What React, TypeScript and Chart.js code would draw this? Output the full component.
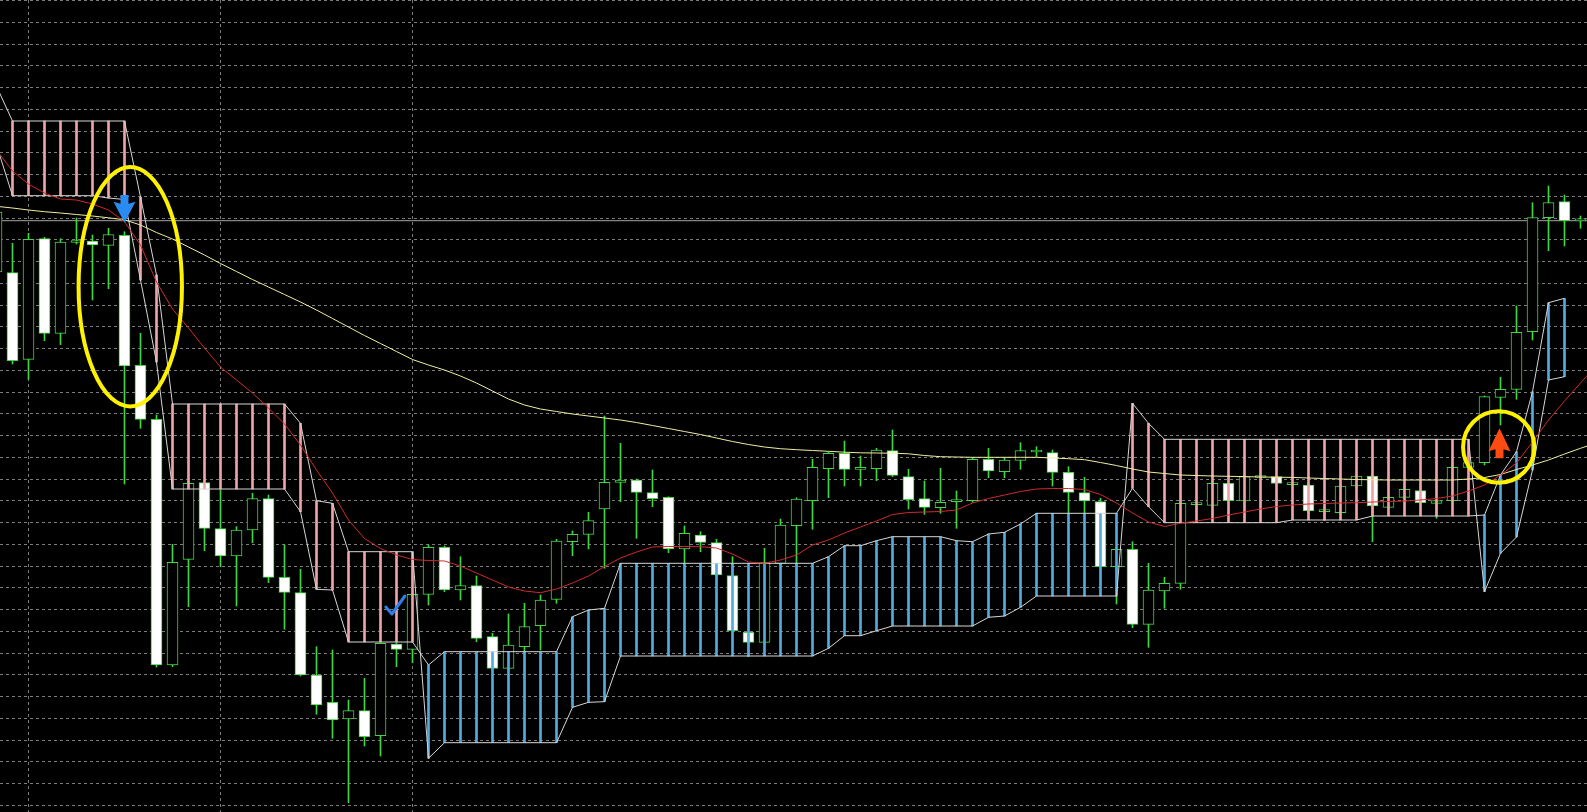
import React, { useEffect, useRef } from 'react';
import { Chart, registerables } from 'chart.js';

Chart.register(...registerables);

// ---------- data (bar index starts at FIRST_BAR) ----------
const FIRST_BAR = -1;

const OPEN = [
  154.00, 153.93, 145.27, 157.33, 147.87, 156.95, 157.10, 156.67, 157.67, 144.67,
  139.27, 114.70, 125.27, 132.93, 128.33, 125.60, 128.20, 131.33, 123.47, 121.93,
  113.70, 110.97, 109.30, 110.13, 107.63, 116.80, 116.27, 121.77, 126.47, 122.20,
  122.63, 117.53, 114.37, 116.53, 118.63, 121.27, 127.03, 127.77, 130.30, 132.97,
  133.20, 131.93, 131.47, 126.30, 127.70, 126.93, 123.63, 117.97, 116.97, 124.87,
  128.63, 131.13, 134.33, 135.87, 134.27, 134.33, 136.13, 133.53, 131.33, 130.43,
  131.03, 131.13, 135.27, 134.03, 135.17, 136.00, 135.93, 133.97, 131.93, 131.03,
  124.53, 126.27, 118.77, 122.10, 122.87, 130.73, 130.67, 132.87, 131.10, 133.45,
  133.53, 132.73, 132.70, 130.03, 129.93, 132.60, 133.60, 130.47, 131.47, 132.13,
  130.87, 131.13, 134.47, 134.93, 141.47, 142.27, 148.03, 159.43, 161.03, 159.11,
];
const HIGH = [
  160.70, 156.87, 157.87, 157.47, 157.33, 159.40, 157.70, 158.37, 158.03, 147.87,
  139.70, 126.77, 133.03, 133.10, 132.20, 128.53, 131.87, 131.70, 126.70, 124.27,
  116.53, 116.20, 111.20, 113.37, 116.90, 116.90, 121.80, 126.70, 126.60, 125.53,
  123.60, 117.87, 119.80, 120.87, 121.70, 127.27, 128.10, 129.97, 139.60, 136.87,
  133.30, 134.20, 131.53, 128.60, 128.03, 127.27, 125.53, 118.00, 126.37, 129.30,
  131.43, 135.27, 136.00, 137.10, 135.60, 136.37, 138.20, 134.27, 133.10, 134.37,
  132.10, 135.47, 136.37, 135.47, 136.93, 136.53, 136.20, 134.53, 133.47, 131.37,
  126.30, 127.03, 124.87, 123.47, 130.90, 130.80, 132.90, 132.90, 133.60, 133.55,
  133.60, 132.80, 132.80, 130.20, 132.70, 133.70, 133.70, 131.50, 132.30, 132.20,
  131.20, 134.50, 135.00, 141.60, 143.47, 150.60, 160.93, 162.60, 161.70, 159.60,
];
const LOW = [
  153.70, 144.80, 143.27, 147.13, 146.73, 156.80, 151.20, 152.33, 132.80, 138.37,
  114.50, 114.53, 120.53, 126.13, 124.53, 120.60, 126.93, 122.93, 118.27, 113.60,
  109.77, 107.37, 100.93, 106.60, 105.60, 114.53, 114.93, 120.70, 122.03, 121.20,
  117.03, 114.20, 114.20, 116.00, 116.20, 120.87, 125.63, 126.30, 124.37, 131.03,
  127.37, 130.53, 125.93, 124.87, 126.03, 123.60, 118.10, 115.53, 116.90, 124.70,
  124.70, 128.27, 131.43, 132.60, 132.60, 133.13, 133.53, 130.30, 129.77, 129.87,
  128.37, 130.97, 133.43, 133.43, 134.27, 135.53, 132.60, 129.93, 129.90, 124.50,
  120.80, 118.43, 116.47, 120.37, 122.27, 130.73, 130.65, 131.10, 131.10, 133.40,
  132.85, 132.70, 129.90, 129.13, 129.90, 132.50, 127.03, 130.40, 131.40, 130.90,
  129.37, 131.10, 134.40, 134.70, 138.70, 141.27, 147.20, 156.13, 156.60, 158.37,
];
const CLOSE = [
  160.00, 145.13, 157.27, 147.87, 157.00, 157.00, 156.70, 157.73, 144.60, 139.27,
  114.70, 124.97, 132.87, 128.37, 125.60, 128.20, 131.33, 123.47, 121.97, 113.70,
  110.70, 109.20, 110.13, 107.53, 116.87, 116.27, 121.77, 126.47, 122.20, 122.63,
  117.37, 114.37, 116.70, 118.53, 121.20, 127.10, 127.77, 129.13, 132.97, 133.20,
  131.97, 131.33, 126.30, 127.87, 126.97, 123.70, 118.13, 116.97, 124.93, 128.70,
  131.30, 134.47, 135.87, 134.27, 134.33, 136.20, 133.67, 131.23, 130.47, 130.97,
  131.10, 135.27, 134.10, 135.20, 136.13, 136.03, 133.97, 131.97, 131.10, 124.53,
  126.27, 118.77, 122.20, 122.87, 130.87, 130.80, 132.87, 131.13, 133.53, 133.50,
  132.87, 132.77, 130.10, 130.07, 132.60, 133.60, 130.60, 131.47, 132.27, 130.93,
  131.13, 134.47, 134.93, 141.53, 142.27, 147.97, 159.43, 160.93, 159.13, 159.13,
];

// Ichimoku cloud edges (bar FIRST_BAR .. 97)
const SPAN_A = [
  166.70,
  161.63, 161.63, 161.63, 161.63, 161.63, 161.63, 161.40, 161.25, 153.20, 145.00,
  132.30, 132.30, 132.30, 132.30, 132.30, 132.30, 132.30, 132.30, 130.03, 122.27,
  122.20, 117.00, 117.00, 117.00, 117.00, 117.00, 114.70, 116.03, 116.03, 116.03,
  116.03, 116.03, 116.03, 116.03, 116.03, 119.53, 120.20, 120.37, 124.87, 124.87,
  124.87, 124.87, 124.87, 124.87, 124.87, 124.87, 124.87, 124.87, 124.87, 124.87,
  124.87, 125.53, 126.63, 126.63, 127.13, 127.53, 127.53, 127.53, 127.53, 127.13,
  127.03, 127.80, 127.97, 128.80, 129.87, 129.87, 129.87, 129.87, 129.87, 129.87,
  132.37, 130.53, 128.93, 128.93, 128.93, 128.93, 128.93, 128.93, 128.93, 128.93,
  129.20, 129.20, 129.20, 129.20, 129.20, 129.60, 129.60, 129.60, 129.60, 129.60,
  129.60, 129.60, 129.70, 133.70, 136.03, 142.03, 150.93, 151.37,
];
const SPAN_B = [
  172.57,
  169.10, 169.10, 169.10, 169.10, 169.10, 169.10, 169.10, 169.10, 161.50, 153.70,
  140.80, 140.80, 140.80, 140.80, 140.80, 140.80, 140.80, 140.80, 138.87, 131.13,
  130.87, 126.03, 126.03, 126.03, 126.03, 126.03, 105.37, 106.93, 106.93, 106.93,
  106.93, 106.93, 106.93, 106.93, 106.93, 110.47, 110.97, 111.03, 115.60, 115.60,
  115.60, 115.60, 115.60, 115.60, 115.60, 115.60, 115.60, 115.60, 115.60, 115.60,
  115.60, 116.37, 117.63, 117.63, 118.13, 118.60, 118.60, 118.60, 118.60, 118.60,
  118.60, 119.47, 119.60, 120.47, 121.60, 121.60, 121.60, 121.60, 121.60, 121.60,
  140.87, 138.87, 137.27, 137.27, 137.27, 137.27, 137.27, 137.27, 137.27, 137.27,
  137.27, 137.27, 137.27, 137.27, 137.27, 137.27, 137.27, 137.27, 137.27, 137.27,
  137.27, 137.27, 122.03, 125.87, 127.50, 134.20, 143.20, 143.53,
];

// moving averages (bar FIRST_BAR .. 99)
const MA_RED = [
  166.20,
  164.10, 162.80, 161.90, 161.30, 161.20, 160.80, 160.20, 159.03, 156.70, 153.00,
  150.30, 148.40, 146.40, 144.50, 143.20, 141.90, 140.40, 138.80, 136.70, 134.20,
  131.90, 129.20, 127.35, 126.35, 125.70, 125.25, 125.15, 125.10, 124.60, 123.90,
  123.20, 122.50, 122.10, 121.93, 122.30, 122.90, 123.60, 124.55, 125.40, 126.00,
  126.50, 126.55, 126.55, 126.53, 126.40, 125.80, 125.00, 124.87, 125.20, 125.70,
  126.70, 127.20, 127.90, 128.50, 129.10, 129.75, 129.95, 130.00, 130.05, 130.20,
  130.90, 131.35, 131.70, 132.05, 132.30, 132.35, 132.35, 132.25, 131.75, 130.90,
  129.90, 129.00, 128.55, 128.87, 129.10, 129.35, 129.70, 130.00, 130.30, 130.55,
  130.70, 130.80, 130.85, 130.90, 130.93, 131.00, 131.05, 131.10, 131.20, 131.35,
  131.60, 132.10, 132.70, 133.70, 134.90, 137.00, 139.20, 141.10, 142.90, 144.70,
];
const MA_YELLOW = [
  160.57,
  160.40, 160.20, 160.03, 159.90, 159.75, 159.60, 159.42, 159.22, 158.70, 157.95,
  157.30, 156.50, 155.70, 154.85, 154.05, 153.25, 152.50, 151.75, 151.00, 150.20,
  149.35, 148.50, 147.65, 146.85, 146.05, 145.25, 144.70, 144.20, 143.60, 142.90,
  142.10, 141.30, 140.70, 140.30, 140.05, 139.80, 139.60, 139.40, 139.20, 138.95,
  138.65, 138.35, 138.05, 137.75, 137.40, 137.05, 136.75, 136.50, 136.33, 136.23,
  136.15, 136.07, 135.98, 135.92, 135.90, 135.88, 135.82, 135.65, 135.53, 135.50,
  135.47, 135.47, 135.47, 135.47, 135.47, 135.40, 135.33, 135.23, 134.95, 134.65,
  134.30, 134.00, 133.85, 133.70, 133.65, 133.60, 133.57, 133.54, 133.50, 133.48,
  133.46, 133.40, 133.35, 133.30, 133.25, 133.22, 133.20, 133.20, 133.20, 133.20,
  133.20, 133.30, 133.45, 133.75, 134.25, 134.70, 135.20, 135.80, 136.37, 136.90,
];

// grid: price levels and period separators
const GRID_TOP = 181.13;
const GRID_STEP = 2.175;
const GRID_COUNT = 38;
const SEPARATOR_BARS = [1, 13, 25];

// annotations (bar index, price)
const SELL_ARROW = { bar: 7, top: 161.7, tip: 158.93 };
const BUY_ARROW = { bar: 93, tip: 138.37, bottom: 135.37 };
const CHECK_MARK = { bar: 23.9, price: 120.7 };
const OVAL = { bar: 7.36, price: 152.53, rBars: 3.23, rPrice: 11.97 };
const RING = { bar: 92.89, price: 136.5, rBars: 2.23, rPrice: 3.57 };

// view window
const X_MIN = -0.78125;
const X_MAX = 98.40625;
const Y_MIN = 100.0;
const Y_MAX = 181.2;

const GREEN = '#42d642';
const PINK = '#f0a4a4';
const BLUE = '#55aae0';
const EDGE = '#d6d6d6';

const marksPlugin = {
  id: 'marks',
  afterDatasetsDraw(chart: any) {
    const { ctx } = chart;
    const xs = chart.scales.x;
    const ys = chart.scales.y;
    const px = (b: number) => xs.getPixelForValue(b);
    const py = (p: number) => ys.getPixelForValue(p);
    ctx.save();

    // yellow oval and ring
    ctx.strokeStyle = '#fff200';
    ctx.lineWidth = 4;
    for (const e of [OVAL, RING]) {
      const cx = px(e.bar);
      const cy = py(e.price);
      const rx = px(e.bar + e.rBars) - cx;
      const ry = cy - py(e.price + e.rPrice);
      ctx.beginPath();
      ctx.ellipse(cx, cy, rx, ry, 0, 0, Math.PI * 2);
      ctx.stroke();
    }

    // blue sell arrow (pointing down)
    {
      const cx = px(SELL_ARROW.bar);
      const yt = py(SELL_ARROW.top);
      const yp = py(SELL_ARROW.tip);
      const hb = yp - 19;
      ctx.fillStyle = '#2a8cf2';
      ctx.beginPath();
      ctx.moveTo(cx - 4, yt);
      ctx.lineTo(cx + 4, yt);
      ctx.lineTo(cx + 4, hb);
      ctx.lineTo(cx + 11, hb - 2);
      ctx.lineTo(cx, yp);
      ctx.lineTo(cx - 11, hb - 2);
      ctx.lineTo(cx - 4, hb);
      ctx.closePath();
      ctx.fill();
    }

    // red buy arrow (pointing up)
    {
      const cx = px(BUY_ARROW.bar) - 1;
      const yp = py(BUY_ARROW.tip);
      const yb = py(BUY_ARROW.bottom);
      const hb = yp + 21;
      ctx.fillStyle = '#ff4a12';
      ctx.beginPath();
      ctx.moveTo(cx - 4, yb);
      ctx.lineTo(cx + 4, yb);
      ctx.lineTo(cx + 4, hb);
      ctx.lineTo(cx + 11, hb + 2);
      ctx.lineTo(cx, yp);
      ctx.lineTo(cx - 11, hb + 2);
      ctx.lineTo(cx - 4, hb);
      ctx.closePath();
      ctx.fill();
    }

    // blue check mark
    {
      const cx = px(CHECK_MARK.bar);
      const cy = py(CHECK_MARK.price);
      ctx.strokeStyle = '#2f7fe6';
      ctx.lineWidth = 3;
      ctx.lineCap = 'round';
      ctx.lineJoin = 'round';
      ctx.beginPath();
      ctx.moveTo(cx - 9, cy + 2);
      ctx.lineTo(cx - 3, cy + 9);
      ctx.lineTo(cx + 10, cy - 9);
      ctx.stroke();
    }
    ctx.restore();
  },
};

export default function App() {
  const canvasRef = useRef<HTMLCanvasElement | null>(null);

  useEffect(() => {
    const canvas = canvasRef.current;
    if (!canvas) return;
    const bar = (i: number) => FIRST_BAR + i;

    const wicks = OPEN.map((_, i) => ({ x: bar(i), y: [LOW[i], HIGH[i]] }));
    const bodies = OPEN.map((o, i) => ({ x: bar(i), y: [o, CLOSE[i]] }));
    const bodyFill = OPEN.map((o, i) => (CLOSE[i] < o ? '#ffffff' : '#000000'));
    const cloud = SPAN_A.map((a, i) => ({ x: bar(i), y: [a, SPAN_B[i]] }));
    const cloudColor = SPAN_A.map((a, i) => (a >= SPAN_B[i] ? BLUE : PINK));
    const spanA = SPAN_A.map((v, i) => ({ x: bar(i), y: v }));
    const spanB = SPAN_B.map((v, i) => ({ x: bar(i), y: v }));
    const red = MA_RED.map((v, i) => ({ x: bar(i), y: v }));
    const yellow = MA_YELLOW.map((v, i) => ({ x: bar(i), y: v }));
    const bid = CLOSE[CLOSE.length - 1];
    const gridLevels = Array.from({ length: GRID_COUNT }, (_, j) => GRID_TOP - j * GRID_STEP);

    const lineBase = { type: 'line' as const, pointRadius: 0, borderWidth: 1, tension: 0, fill: false };

    const chart = new Chart(canvas, {
      type: 'bar',
      data: {
        datasets: [
          { ...lineBase, label: 'MA fast', data: red, borderColor: '#d02a2a', order: 1 },
          { ...lineBase, label: 'MA slow', data: yellow, borderColor: '#eeeea0', order: 1 },
          { ...lineBase, label: 'Span A', data: spanA, borderColor: EDGE, order: 2 },
          { ...lineBase, label: 'Span B', data: spanB, borderColor: EDGE, order: 2 },
          {
            type: 'bar', label: 'Kumo', data: cloud as any, backgroundColor: cloudColor,
            borderWidth: 0, barThickness: 2, grouped: false, order: 3,
          },
          {
            type: 'bar', label: 'Body', data: bodies as any, backgroundColor: bodyFill,
            borderColor: GREEN, borderWidth: 1, borderSkipped: false, barThickness: 11,
            minBarLength: 2, grouped: false, order: 4,
          },
          {
            type: 'bar', label: 'Wick', data: wicks as any, backgroundColor: GREEN,
            borderWidth: 0, barThickness: 1, minBarLength: 1, grouped: false, order: 5,
          },
          {
            ...lineBase, label: 'Bid', data: [{ x: X_MIN, y: bid }, { x: X_MAX, y: bid }],
            borderColor: '#a4a4a4', order: 6,
          },
        ] as any,
      },
      options: {
        animation: false,
        responsive: true,
        maintainAspectRatio: false,
        devicePixelRatio: 1,
        events: [],
        layout: { padding: 0 },
        plugins: { legend: { display: false }, tooltip: { enabled: false } },
        scales: {
          x: {
            type: 'linear', min: X_MIN, max: X_MAX, offset: false,
            grid: { offset: false, color: '#7c7c7c', lineWidth: 1, drawTicks: false },
            border: { display: false, dash: [3, 3] },
            ticks: { display: false },
            afterBuildTicks: (axis: any) => { axis.ticks = SEPARATOR_BARS.map((v) => ({ value: v })); },
          },
          y: {
            type: 'linear', min: Y_MIN, max: Y_MAX, beginAtZero: false,
            grid: { color: '#7c7c7c', lineWidth: 1, drawTicks: false },
            border: { display: false, dash: [3, 3] },
            ticks: { display: false },
            afterBuildTicks: (axis: any) => { axis.ticks = gridLevels.map((v) => ({ value: v })); },
          },
        } as any,
      },
      plugins: [marksPlugin],
    });
    return () => chart.destroy();
  }, []);

  return (
    <div style={{ position: 'fixed', left: 0, top: 0, width: 1587, height: 812, background: '#000' }}>
      <canvas ref={canvasRef} />
    </div>
  );
}
